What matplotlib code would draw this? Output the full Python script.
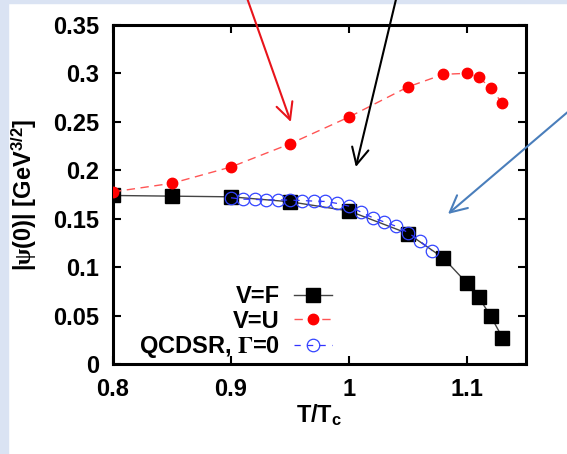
import matplotlib
matplotlib.use("Agg")
import matplotlib.pyplot as plt
from matplotlib.font_manager import FontProperties
from matplotlib.patches import Rectangle

# ── Data ──────────────────────────────────────────────────────────────────────
t_lat = [0.80, 0.85, 0.90, 0.95, 1.00, 1.05, 1.08, 1.10, 1.11, 1.12, 1.13]
psi_F = [0.174, 0.1733, 0.1726, 0.1675, 0.158, 0.1347, 0.1094, 0.0834,
         0.0687, 0.0496, 0.0273]
psi_U = [0.1777, 0.1866, 0.2034, 0.2273, 0.255, 0.2861, 0.2991, 0.3001,
         0.296, 0.2851, 0.269]

t_sr = [0.90, 0.91, 0.92, 0.93, 0.94, 0.95, 0.96, 0.97, 0.98, 0.99,
        1.00, 1.01, 1.02, 1.03, 1.04, 1.05, 1.06, 1.07]
psi_sr = [0.1716, 0.1702, 0.1699, 0.1695, 0.1695, 0.1692, 0.1688, 0.1682,
          0.1678, 0.1658, 0.163, 0.1569, 0.1511, 0.1466, 0.1422, 0.1357,
          0.1271, 0.1169]

x_ticks = [0.8, 0.9, 1.0, 1.1]
x_ticklabels = ["0.8", "0.9", "1", "1.1"]
y_ticks = [0, 0.05, 0.1, 0.15, 0.2, 0.25, 0.3, 0.35]
y_ticklabels = ["0", "0.05", "0.1", "0.15", "0.2", "0.25", "0.3", "0.35"]

# ── Style ─────────────────────────────────────────────────────────────────────
plt.rcParams["font.family"] = "Liberation Sans"
plt.rcParams["font.weight"] = "bold"
plt.rcParams["mathtext.fontset"] = "custom"
plt.rcParams["mathtext.rm"] = "Liberation Sans:bold"
plt.rcParams["mathtext.bf"] = "Liberation Sans:bold"
plt.rcParams["mathtext.it"] = "Liberation Serif"
fs = 17

fig = plt.figure(figsize=(5.67, 4.54), dpi=100)
# light-blue slide background strips
fig.patches.append(Rectangle((0, 0), 8 / 567, 1, transform=fig.transFigure,
                             color="#dae3f3", zorder=-10))
fig.patches.append(Rectangle((0, 1 - 3 / 454), 1, 3 / 454,
                             transform=fig.transFigure, color="#dae3f3", zorder=-10))

ax = fig.add_axes([113 / 567, 1 - 364 / 454, 413 / 567, 339 / 454])

ax.plot(t_lat, psi_F, color="#444444", lw=1.0, marker="s", ms=10,
        mfc="black", mec="black", label="V=F", zorder=3)
ax.plot(t_lat, psi_U, color="#ff5555", lw=1.0, ls=(0, (6, 4)), marker="o",
        ms=7.5, mfc="red", mec="red", label="V=U", zorder=3)
ax.plot(t_sr, psi_sr, color="#3333ff", lw=0.9, ls=(0, (5, 5)), marker="o",
        ms=9, mfc="none", mec="#3344ff", mew=0.9,
        label=r"QCDSR, $\Gamma$=0", zorder=4)

ax.set_xlim(0.8, 1.15)
ax.set_ylim(0, 0.35)
ax.set_xticks(x_ticks)
ax.set_xticklabels(x_ticklabels)
ax.set_yticks(y_ticks)
ax.set_yticklabels(y_ticklabels)
ax.tick_params(direction="in", length=6, width=1.5, top=True, right=True,
               labelsize=fs, pad=10)
for s in ax.spines.values():
    s.set_linewidth(2.2)

ax.set_xlabel(r"T/T$_{\mathregular{c}}$", fontsize=fs, fontweight="bold")
ax.xaxis.set_label_coords(0.5, -0.115)
ax.set_ylabel(r"|$\psi$(0)| [GeV$^{\mathregular{3/2}}$]", fontsize=fs,
              fontweight="bold")
ax.yaxis.set_label_coords(-0.18, 0.5)

leg_font = FontProperties(family="Liberation Sans", weight="bold", size=fs,
                          math_fontfamily="stix")
ax.legend(loc="center right", bbox_to_anchor=(0.53, 0.122), frameon=False,
          markerfirst=False, prop=leg_font, handlelength=1.6,
          handletextpad=0.6, labelspacing=0.05, borderpad=0,
          borderaxespad=0, numpoints=1)

# ── Annotation arrows ─────────────────────────────────────────────────────────
arrows = [
    ((0.9507, 0.2499), (0.9115, 0.385), "#e8141b"),
    ((1.0058, 0.2034), (1.0415, 0.385), "black"),
    ((1.0839, 0.1549), (1.19, 0.265), "#4a7ebb"),
]
for head, tail, col in arrows:
    ax.annotate("", xy=head, xytext=tail, annotation_clip=False,
                arrowprops=dict(arrowstyle="->,head_length=0.6,head_width=0.3",
                                color=col, lw=1.5, mutation_scale=20,
                                shrinkA=0, shrinkB=0))

fig.savefig("out.png", dpi=100)
